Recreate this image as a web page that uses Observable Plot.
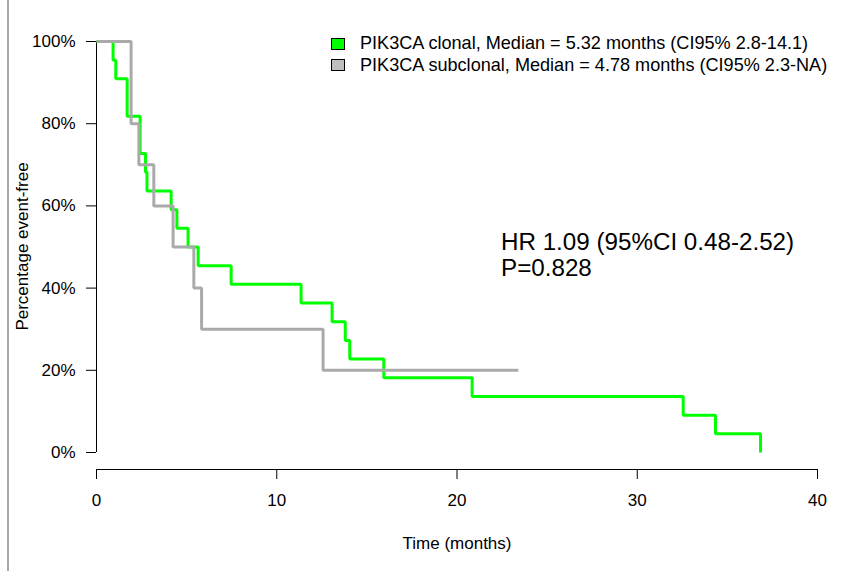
<!DOCTYPE html>
<html>
<head>
<meta charset="utf-8">
<script src="https://cdn.jsdelivr.net/npm/d3@7"></script>
<script src="https://cdn.jsdelivr.net/npm/@observablehq/plot@0.6"></script>
<style>
  html, body { margin: 0; padding: 0; background: #fff; }
  #wrap { position: relative; width: 849px; height: 571px; overflow: hidden; font-family: "Liberation Sans", Arial, sans-serif; color: #000; }
  #border { position: absolute; left: 7px; top: 0; width: 2px; height: 571px; background: #a8a8a8; }
  #legend { position: absolute; left: 331px; top: 33px; font-size: 18.1px; line-height: 21.5px; }
  .row { display: flex; align-items: center; white-space: nowrap; }
  .sw { width: 12px; height: 10px; border: 1px solid #000; margin-right: 15px; }
  #hr { position: absolute; left: 501px; top: 229px; font-size: 24.2px; line-height: 26px; white-space: nowrap; }
</style>
</head>
<body>
<div id="wrap">
  <div id="border"></div>
  <div id="chart"></div>
  <div id="legend"></div>
  <div id="hr"></div>
</div>
<script>
// ---- Data ----
const seriesNames = ["PIK3CA clonal", "PIK3CA subclonal"];
const seriesColors = ["#00ff00", "#aaaaaa"];
const legendFill = ["#00ff00", "#bebebe"];
const medians = ["5.32", "4.78"];
const ciText = ["2.8-14.1", "2.3-NA"];

// PIK3CA clonal (n = 22)
const clonalTime = [0, 0.92, 1.07, 1.70, 2.42, 2.72, 2.80, 4.14, 4.46, 5.08, 5.64, 7.47, 11.35, 13.07, 13.80, 14.05, 15.94, 20.84, 32.55, 34.34, 36.84];
const clonalSurv = [100, 95.45, 90.91, 81.82, 72.73, 68.18, 63.64, 59.09, 54.55, 50.00, 45.45, 40.91, 36.36, 31.82, 27.27, 22.73, 18.18, 13.64, 9.09, 4.55, 0];

// PIK3CA subclonal (n = 10)
const subclonalTime = [0, 1.92, 2.35, 3.18, 4.25, 5.40, 5.83, 12.57, 23.40];
const subclonalSurv = [100, 80, 70, 60, 50, 40, 30, 20, 20];

const xTicks = [0, 10, 20, 30, 40];
const yTicks = [0, 20, 40, 60, 80, 100];
const xLabel = "Time (months)";
const yLabel = "Percentage event-free";
const hrLines = ["HR 1.09 (95%CI 0.48-2.52)", "P=0.828"];

// ---- Build tables ----
const clonal = clonalTime.map((t, i) => ({time: t, surv: clonalSurv[i]}));
const subclonal = subclonalTime.map((t, i) => ({time: t, surv: subclonalSurv[i]}));

const font = "'Liberation Sans', Arial, sans-serif";

const chart = Plot.plot({
  width: 849,
  height: 571,
  marginLeft: 96,
  marginRight: 32,
  marginTop: 41,
  marginBottom: 102,
  style: {fontFamily: font, color: "#000", background: "transparent", overflow: "visible"},
  x: {domain: [0, 40]},
  y: {domain: [0, 100], range: [452, 41]},
  marks: [
    Plot.ruleY([0], {dy: 17, stroke: "#000", strokeWidth: 1}),
    Plot.ruleX([0], {y1: 0, y2: 100, stroke: "#000", strokeWidth: 1}),
    Plot.axisX({ticks: xTicks, tickSize: 10, tickPadding: 14, fontSize: 17, tickFormat: d => String(d),
      label: xLabel, labelAnchor: "center", labelOffset: 79, labelArrow: "none"}),
    Plot.axisY({ticks: yTicks, tickSize: 10, tickPadding: 11, fontSize: 17, tickFormat: d => d + "%", label: null}),
    Plot.text([yLabel], {text: d => d, frameAnchor: "left", textAnchor: "middle", lineAnchor: "middle", dx: -74, dy: -9, rotate: -90, fontSize: 17, fill: "#000"}),
    Plot.line(clonal, {x: "time", y: "surv", curve: "step-after", stroke: seriesColors[0], strokeWidth: 3, strokeLinejoin: "miter", strokeLinecap: "butt"}),
    Plot.line(subclonal, {x: "time", y: "surv", curve: "step-after", stroke: seriesColors[1], strokeWidth: 3, strokeLinejoin: "miter", strokeLinecap: "butt"})
  ]
});
document.getElementById("chart").appendChild(chart);

// Legend
const legend = document.getElementById("legend");
seriesNames.forEach((name, i) => {
  const row = document.createElement("div");
  row.className = "row";
  const sw = document.createElement("div");
  sw.className = "sw";
  sw.style.background = legendFill[i];
  const label = document.createElement("span");
  label.textContent = `${name}, Median = ${medians[i]} months (CI95% ${ciText[i]})`;
  row.appendChild(sw);
  row.appendChild(label);
  legend.appendChild(row);
});

// Annotation
const hr = document.getElementById("hr");
hrLines.forEach(t => {
  const d = document.createElement("div");
  d.textContent = t;
  hr.appendChild(d);
});
</script>
</body>
</html>
